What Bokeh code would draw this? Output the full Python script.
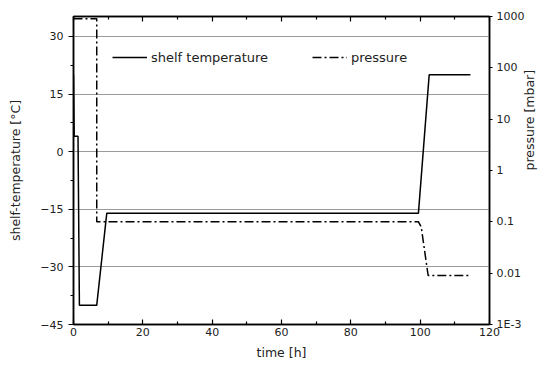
import math
from bokeh.plotting import figure
from bokeh.models import (Range1d, LogScale, LogAxis, LinearAxis, FixedTicker, Legend,
                          LegendItem, Grid, CustomJSTickFormatter)
from bokeh.embed import file_html
from bokeh.resources import INLINE

# ---- data ----
time_temp = [0, 0.2, 1.3, 1.7, 6.7, 9.6, 99.5, 102.6, 114.5]
shelf_temp = [20, 4, 4, -40, -40, -16, -16, 20, 20]

time_pres = [0, 6.7, 6.7, 99.5, 100.3, 102.3, 114.0]
pressure = [900, 900, 0.1, 0.1, 0.08, 0.009, 0.009]

x_ticks = [0, 20, 40, 60, 80, 100, 120]
x_minor = [10, 30, 50, 70, 90, 110]
temp_ticks = [-45, -30, -15, 0, 15, 30]
temp_minor = [-37.5, -22.5, -7.5, 7.5, 22.5]
pres_ticks = [0.001, 0.01, 0.1, 1, 10, 100, 1000]
pres_labels = ["1E-3", "0.01", "0.1", "1", "10", "100", "1000"]

FONT = "DejaVu Sans"
TXT = "#222222"

p = figure(width=547, height=371, output_backend="svg", toolbar_location=None,
           x_range=Range1d(0, 120), y_range=Range1d(-45, 35.2),
           x_axis_location=None, y_axis_location=None,
           min_border_left=73, min_border_right=58, min_border_top=16, min_border_bottom=47)
p.background_fill_color = "white"
p.border_fill_color = "white"
p.outline_line_color = "black"
p.outline_line_width = 1.5

# drop any default grids
p.center = [c for c in p.center if not isinstance(c, Grid)]

p.extra_y_ranges = {"pres": Range1d(0.001, 1000)}
p.extra_y_scales = {"pres": LogScale()}

# grid (from left axis majors)
p.add_layout(Grid(dimension=1, ticker=FixedTicker(ticks=temp_ticks),
                  grid_line_color="#9a9a9a", grid_line_width=1))

def style(ax):
    ax.axis_line_color = "black"
    ax.axis_line_width = 1.5
    ax.major_tick_line_color = "black"
    ax.minor_tick_line_color = "black"
    ax.major_tick_line_width = 1.2
    ax.minor_tick_line_width = 1.2
    ax.major_label_text_font = FONT
    ax.major_label_text_font_size = "11px"
    ax.major_label_text_color = TXT
    ax.axis_label_text_font = FONT
    ax.axis_label_text_font_size = "12.5px"
    ax.axis_label_text_font_style = "normal"
    ax.axis_label_text_color = TXT

# bottom axis
xb = LinearAxis(ticker=FixedTicker(ticks=x_ticks, minor_ticks=x_minor), axis_label="time [h]")
style(xb)
xb.major_tick_in = 5
xb.major_tick_out = 0
xb.minor_tick_in = 3
xb.minor_tick_out = 0
xb.major_label_standoff = 3
xb.axis_label_standoff = 6
p.add_layout(xb, "below")

# top axis (ticks only)
xt = LinearAxis(ticker=FixedTicker(ticks=x_ticks, minor_ticks=x_minor),
                formatter=CustomJSTickFormatter(code="return ''"))
style(xt)
xt.major_tick_in = 5
xt.major_tick_out = 0
xt.minor_tick_in = 3
xt.minor_tick_out = 0
xt.major_label_standoff = 0
p.add_layout(xt, "above")

# left axis
yl = LinearAxis(ticker=FixedTicker(ticks=temp_ticks, minor_ticks=temp_minor),
                axis_label="shelf-temperature [°C]")
style(yl)
yl.major_tick_in = 0
yl.major_tick_out = 5
yl.minor_tick_in = 0
yl.minor_tick_out = 3
yl.major_label_standoff = 5
yl.axis_label_standoff = 14
p.add_layout(yl, "left")

# right axis (log pressure)
yr = LogAxis(y_range_name="pres", ticker=FixedTicker(ticks=pres_ticks, minor_ticks=[]),
             major_label_overrides={v: s for v, s in zip(pres_ticks, pres_labels)},
             axis_label="pressure [mbar]")
style(yr)
yr.major_tick_in = 0
yr.major_tick_out = 3
yr.minor_tick_in = 0
yr.minor_tick_out = 0
yr.major_label_standoff = 4
yr.axis_label_standoff = 2
if "axis_label_orientation" in yr.properties():
    yr.axis_label_orientation = math.pi / 2
p.add_layout(yr, "right")

# data
r1 = p.line(time_temp, shelf_temp, line_color="black", line_width=1.5)
r2 = p.line(time_pres, pressure, y_range_name="pres", line_color="black",
            line_width=1.5, line_dash="9 3 2 3")

def legend(item, loc):
    lg = Legend(items=[item], location=loc, orientation="horizontal",
                border_line_alpha=0, background_fill_alpha=0, padding=0, margin=0,
                glyph_width=35, glyph_height=16, label_standoff=4, label_height=16,
                label_text_font=FONT, label_text_font_size="13px", label_text_color=TXT,
                spacing=0)
    p.add_layout(lg, "center")

legend(LegendItem(label="shelf temperature", renderers=[r1]), (39, 259))
legend(LegendItem(label="pressure", renderers=[r2]), (239, 259))

open("out.html", "w").write(file_html(p, INLINE))
